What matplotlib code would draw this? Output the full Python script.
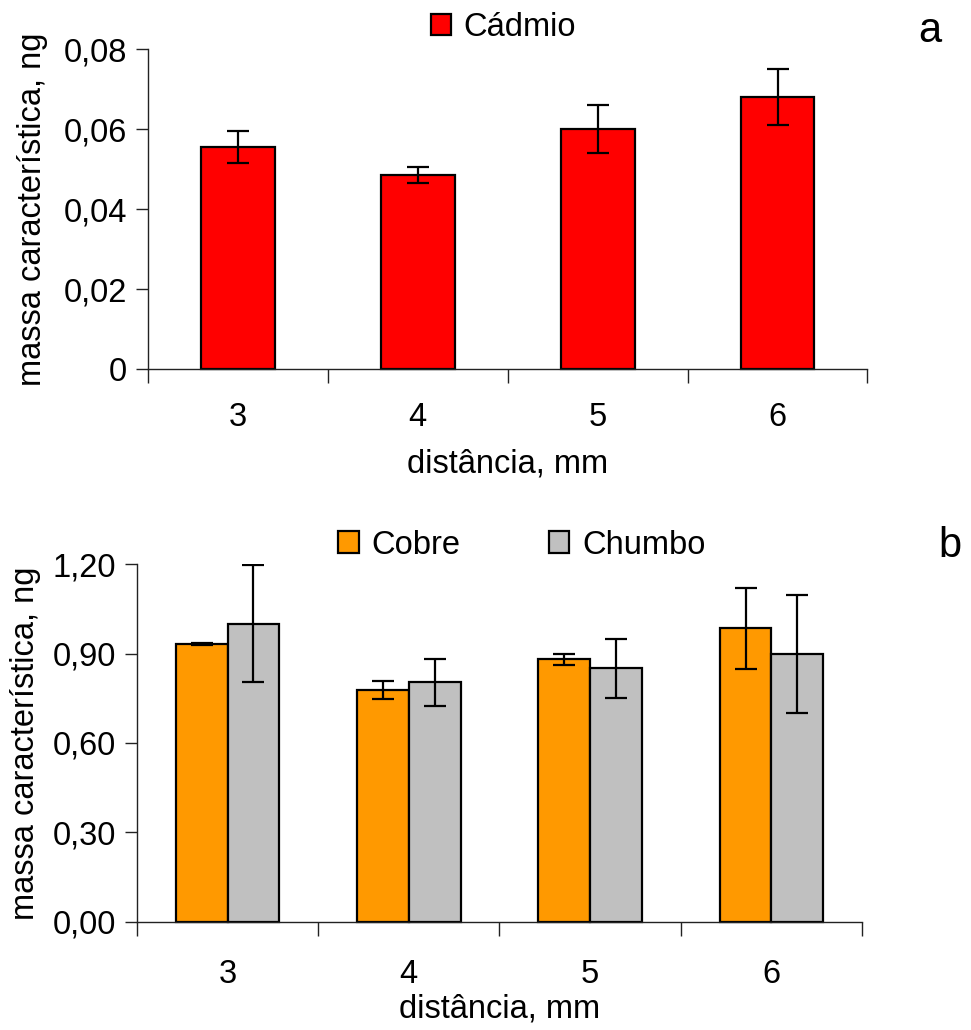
import matplotlib
matplotlib.use("Agg")
import matplotlib.pyplot as plt
from matplotlib.ticker import FixedLocator, FuncFormatter
import numpy as np

plt.rcParams['font.family'] = ['Liberation Sans', 'DejaVu Sans']

categories = ["3", "4", "5", "6"]
cadmio = [0.0555, 0.0485, 0.060, 0.068]
cadmio_err = [0.004, 0.002, 0.006, 0.007]
cobre = [0.932, 0.778, 0.880, 0.985]
cobre_err = [0.004, 0.030, 0.020, 0.136]
chumbo = [1.000, 0.803, 0.850, 0.898]
chumbo_err = [0.197, 0.080, 0.098, 0.198]

fs = 23.5
fig = plt.figure(figsize=(9.71, 10.30), dpi=100)

def style_axes(ax, ymax, yticks, fmt, xpad):
    ax.set_xlim(-0.5, len(categories) - 0.5)
    ax.set_ylim(0, ymax)
    for s in ("top", "right"):
        ax.spines[s].set_visible(False)
    for s in ("left", "bottom"):
        ax.spines[s].set_linewidth(1.0)
        ax.spines[s].set_color("#222222")
    ax.set_yticks(yticks)
    ax.yaxis.set_major_formatter(FuncFormatter(fmt))
    ax.tick_params(axis="y", direction="out", length=9, width=1.0, labelsize=fs, pad=6, colors="#222222", labelcolor="black")
    x = np.arange(len(categories))
    ax.set_xticks(x)
    ax.set_xticklabels(categories)
    ax.tick_params(axis="x", which="major", length=0, labelsize=fs, pad=xpad)
    ax.xaxis.set_minor_locator(FixedLocator(np.arange(len(categories) + 1) - 0.5))
    ax.tick_params(axis="x", which="minor", direction="out", length=10, width=1.0, colors="#222222")
    ax.set_ylabel("massa característica, ng", fontsize=fs)
    return x

ekw = dict(elinewidth=1.6, capthick=1.6, ecolor="black")
leg_kw = dict(frameon=False, fontsize=fs, handlelength=0.62, handleheight=0.62,
              handletextpad=0.4, borderaxespad=0, borderpad=0)

# Panel a
ax1 = fig.add_axes([0.1524, 0.6417, 0.741, 0.3107])
x = style_axes(ax1, 0.08, [0, 0.02, 0.04, 0.06, 0.08],
               lambda v, p: "0" if v == 0 else f"{v:.2f}".replace(".", ","), 24)
ax1.bar(x, cadmio, width=0.41, color="#FF0000", edgecolor="black", linewidth=1.6,
        yerr=cadmio_err, capsize=8, error_kw=ekw, label="Cádmio", clip_on=False)
ax1.set_xlabel("distância, mm", fontsize=fs, labelpad=11)
ax1.yaxis.set_label_coords(-0.139, 0.5)
ax1.legend(loc="center", bbox_to_anchor=(0.494, 1.066), **leg_kw)
fig.text(0.958, 0.97, "a", fontsize=30, ha="center", va="center")

# Panel b
ax2 = fig.add_axes([0.1411, 0.1049, 0.7466, 0.3475])
x = style_axes(ax2, 1.20, [0, 0.30, 0.60, 0.90, 1.20],
               lambda v, p: f"{v:.2f}".replace(".", ","), 27)
w = 0.285
ax2.bar(x - w / 2, cobre, width=w, color="#FF9900", edgecolor="black", linewidth=1.6,
        yerr=cobre_err, capsize=8, error_kw=ekw, label="Cobre", clip_on=False)
ax2.bar(x + w / 2, chumbo, width=w, color="#C0C0C0", edgecolor="black", linewidth=1.6,
        yerr=chumbo_err, capsize=8, error_kw=ekw, label="Chumbo", clip_on=False)
ax2.set_xlabel("distância, mm", fontsize=fs, labelpad=2)
ax2.yaxis.set_label_coords(-0.133, 0.5)
ax2.legend(loc="center", bbox_to_anchor=(0.531, 1.053), ncol=2, columnspacing=2.7, **leg_kw)
fig.text(0.978, 0.47, "b", fontsize=30, ha="center", va="center")

fig.savefig("out.png", dpi=100, facecolor="white")
